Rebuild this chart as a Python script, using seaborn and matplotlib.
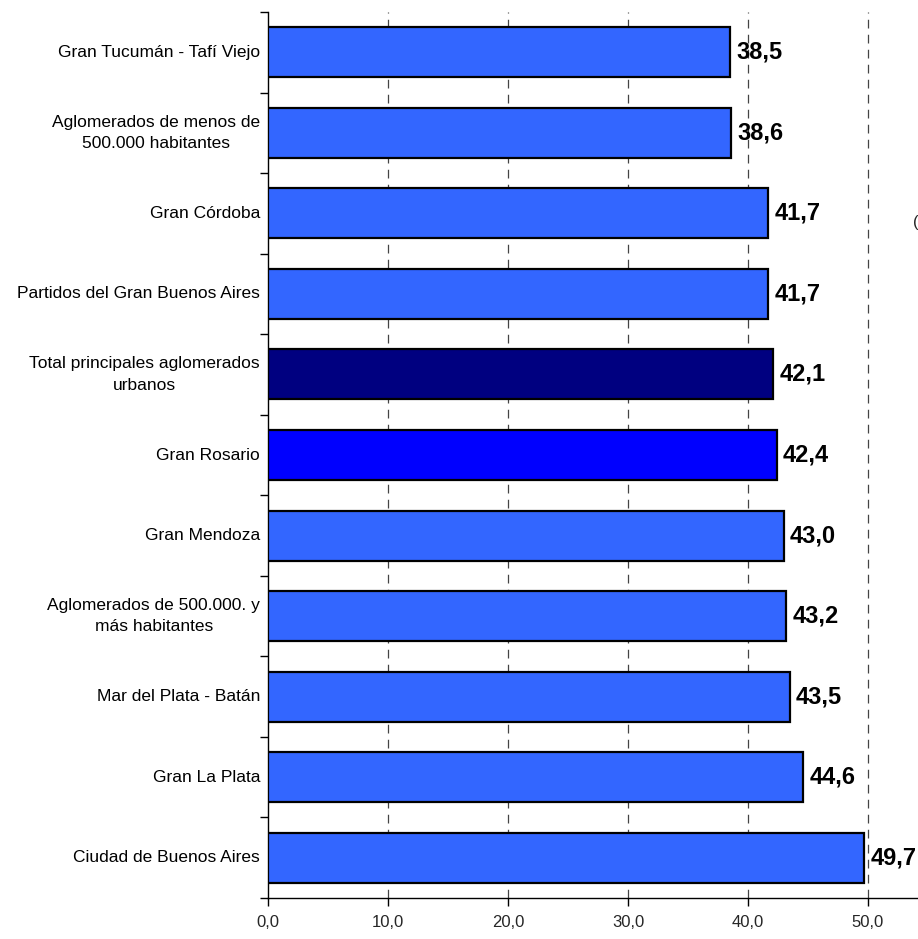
import matplotlib
matplotlib.use("Agg")
import matplotlib.pyplot as plt
import matplotlib.font_manager as fm
import seaborn as sns
import pandas as pd

sns.set_theme(style="white")

names = {f.name for f in fm.fontManager.ttflist}
FONT = "Liberation Sans Narrow" if "Liberation Sans Narrow" in names else "Liberation Sans"
plt.rcParams["font.family"] = [FONT, "DejaVu Sans"]

# ---------------------------------------------------------------------------
# Data
# ---------------------------------------------------------------------------
categories = [
    "Gran Tucumán - Tafí Viejo",
    "Aglomerados de menos de\n500.000 habitantes",
    "Gran Córdoba",
    "Partidos del Gran Buenos Aires",
    "Total principales aglomerados\nurbanos",
    "Gran Rosario",
    "Gran Mendoza",
    "Aglomerados de 500.000. y\nmás habitantes",
    "Mar del Plata - Batán",
    "Gran La Plata",
    "Ciudad de Buenos Aires",
]
values = [38.5, 38.6, 41.7, 41.7, 42.1, 42.4, 43.0, 43.2, 43.5, 44.6, 49.7]
bar_colors = ["#3366FF"] * 4 + ["#000080", "#0000FF"] + ["#3366FF"] * 5
xticks = [0, 10, 20, 30, 40, 50]

df = pd.DataFrame({"cat": categories, "val": values})

# ---------------------------------------------------------------------------
# Plot
# ---------------------------------------------------------------------------
fig = plt.figure(figsize=(9.18, 9.39), dpi=100)
ax = fig.add_axes([268 / 918, 41 / 939, 660 / 918, 886 / 939])

sns.barplot(data=df, y="cat", x="val", hue="cat", palette=bar_colors,
            saturation=1, legend=False, orient="h", width=0.62,
            edgecolor="black", linewidth=1.6, ax=ax, zorder=3)

ax.set_xlim(0, 55)
ax.set_ylim(len(categories) - 0.5, -0.5)
ax.set_xticks(xticks)
ax.set_xticklabels([f"{t:.1f}".replace(".", ",") for t in xticks], fontsize=12)
for t in xticks[1:]:
    ax.axvline(t, color="#444444", lw=0.9, ls=(0, (7, 5)), zorder=1)

# tick marks at category boundaries, labels centred on bars
ax.set_yticks([i - 0.5 for i in range(len(categories) + 1)])
ax.set_yticklabels([""] * (len(categories) + 1))
ax.tick_params(axis="y", length=6, width=1, color="black", direction="out", left=True)
ax.tick_params(axis="x", length=6, width=1, color="black", direction="out", bottom=True, pad=6)
for i, c in enumerate(categories):
    ax.text(-0.012, i, c, transform=ax.get_yaxis_transform(), ha="right",
            va="center", multialignment="center", linespacing=1.55,
            fontsize=12.5, color="black")

for s in ["top", "right"]:
    ax.spines[s].set_visible(False)
for s in ["left", "bottom"]:
    ax.spines[s].set_color("black")
    ax.spines[s].set_linewidth(1)

ax.set_xlabel("")
ax.set_ylabel("")

for i, v in enumerate(values):
    ax.text(v + 0.5, i, f"{v:.1f}".replace(".", ","), va="center", ha="left",
            fontsize=17, fontweight="bold", color="black")

fig.text(913 / 918, 1 - 223 / 939, "(", fontsize=12, va="center", ha="left")

fig.savefig("out.png", dpi=100)
